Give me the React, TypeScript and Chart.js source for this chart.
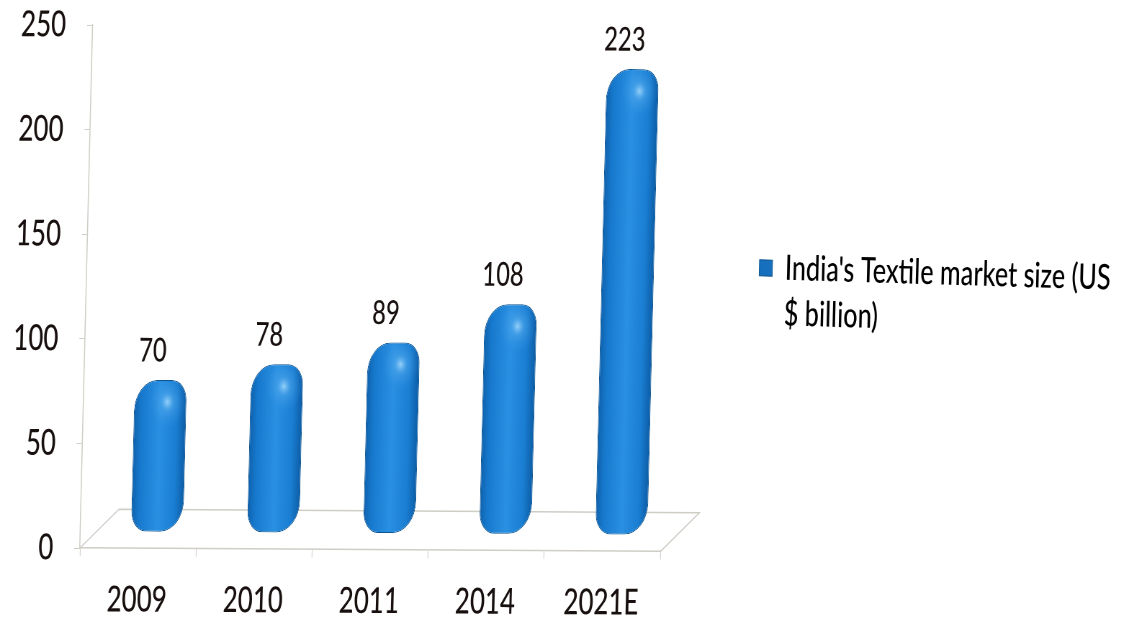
import React, { useEffect, useRef } from "react";
import { Chart, registerables } from "chart.js";

Chart.register(...registerables);

const categories = ["2009", "2010", "2011", "2014", "2021E"];
const marketSize = [70, 78, 89, 108, 223];
const seriesLabel = ["India's Textile market size (US", "$ billion)"];
const yTicks = [0, 50, 100, 150, 200, 250];

const FONT = 'Lato, "Open Sans", sans-serif';
const WEIGHT = 500;
const INK = "#17100f";
const RULE = "#cfcdc6";

// The canvas is laid out wide and squeezed horizontally with CSS, which
// gives the labels their condensed look.
const PAGE_W = 1129;
const PAGE_H = 617;
const SQUEEZE = 0.72;
const CANVAS_W = Math.round(PAGE_W / SQUEEZE);

// The plot is drawn as a tilted 3D box: everything is sheared a little,
// and the columns stand further back on the floor than the front edge.
const PLOT_TOP = 25;
const SHEAR_X = 0.034;
const SHEAR_Y = 0.0044;
const DEPTH_X = 53;
const DEPTH_Y = 39;
const COLUMN_SHIFT = 26;
const LEGEND_W = 651;
const LEGEND_OFFSET_X = 118;
const LEGEND_OFFSET_Y = -17;
const LEGEND_TILT = 0.017;

// Lets the value axes run right up to the top of the plot.
const plotTopPlugin = {
  id: "plotTop",
  afterLayout(chart: any) {
    const area = chart.chartArea;
    area.top = PLOT_TOP;
    area.height = area.bottom - PLOT_TOP;
    [chart.scales.y, chart.scales.columns].forEach((scale: any) => {
      scale.top = PLOT_TOP;
      scale.height = scale.bottom - PLOT_TOP;
      scale.configure();
    });
  },
};

const shearPlugin = {
  id: "shear",
  beforeDraw(chart: any) {
    const { ctx, chartArea } = chart;
    ctx.save();
    ctx.translate(chartArea.left, chartArea.bottom);
    ctx.transform(1, SHEAR_Y, -SHEAR_X, 1, 0, 0);
    ctx.translate(-chartArea.left, -chartArea.bottom);
  },
  afterDraw(chart: any) {
    chart.ctx.restore();
  },
};

const boxPlugin = {
  id: "box",
  beforeDatasetsDraw(chart: any) {
    const { ctx, chartArea } = chart;
    const { left, right, bottom } = chartArea;
    // floor of the box
    ctx.save();
    ctx.strokeStyle = RULE;
    ctx.lineWidth = 1.5;
    ctx.beginPath();
    ctx.moveTo(left, bottom);
    ctx.lineTo(left + DEPTH_X, bottom - DEPTH_Y);
    ctx.lineTo(right + DEPTH_X, bottom - DEPTH_Y);
    ctx.lineTo(right, bottom);
    ctx.stroke();
    ctx.restore();
    // the columns sit behind the front edge
    ctx.save();
    ctx.translate(COLUMN_SHIFT, 0);
  },
  afterDatasetsDraw(chart: any) {
    const { ctx } = chart;
    const bars = chart.getDatasetMeta(0).data;
    bars.forEach((bar: any, i: number) => {
      // specular spot near the top of each column
      const hx = bar.x + 10;
      const hy = bar.y + 22;
      const glow = ctx.createRadialGradient(hx, hy, 0, hx, hy, 26);
      glow.addColorStop(0, "rgba(170,222,255,0.85)");
      glow.addColorStop(0.35, "rgba(90,175,240,0.45)");
      glow.addColorStop(1, "rgba(60,150,230,0)");
      ctx.fillStyle = glow;
      ctx.fillRect(hx - 26, hy - 20, 52, 46);
      // value label above the column
      ctx.fillStyle = INK;
      ctx.font = `${WEIGHT} 33px ${FONT}`;
      ctx.textAlign = "center";
      ctx.textBaseline = "middle";
      ctx.fillText(String(marketSize[i]), bar.x - 12, bar.y - 29);
    });
    ctx.restore();
  },
};

// The legend keeps a fixed slot beside the plot, and its text runs
// downhill more steeply than the plot does.
const legendPlugin = {
  id: "legendSlot",
  afterInit(chart: any) {
    const legend = chart.legend;
    const fit = legend.fit;
    legend.fit = function () {
      fit.call(legend);
      legend.width = LEGEND_W;
    };
    const draw = legend.draw;
    legend.draw = function () {
      const { ctx } = chart;
      ctx.save();
      ctx.translate(LEGEND_OFFSET_X, LEGEND_OFFSET_Y);
      ctx.translate(legend.left, legend.top);
      ctx.transform(1, LEGEND_TILT, 0, 1, 0, 0);
      ctx.translate(-legend.left, -legend.top);
      draw.call(legend);
      ctx.restore();
    };
  },
};

function columnFill(context: any) {
  const chart = context.chart;
  const x = chart.scales.x;
  if (context.dataIndex === undefined || !x) return "#1a7bd0";
  const c = x.getPixelForValue(context.dataIndex);
  const half = 36;
  const g = chart.ctx.createLinearGradient(c - half, 0, c + half, 0);
  g.addColorStop(0, "#0f62ad");
  g.addColorStop(0.14, "#1779cd");
  g.addColorStop(0.5, "#2a90e2");
  g.addColorStop(0.82, "#1a7ed2");
  g.addColorStop(1, "#0d5da6");
  return g;
}

export default function App() {
  const canvasRef = useRef<HTMLCanvasElement | null>(null);

  useEffect(() => {
    document.body.style.margin = "0";
    const chart = new Chart(canvasRef.current as HTMLCanvasElement, {
      type: "bar",
      data: {
        labels: categories,
        datasets: [
          {
            label: seriesLabel.join(" "),
            data: marketSize,
            yAxisID: "columns",
            base: -4,
            backgroundColor: columnFill,
            borderColor: "#0e548f",
            borderWidth: 1,
            borderSkipped: false,
            borderRadius: { topLeft: 32, topRight: 20, bottomLeft: 20, bottomRight: 32 },
            barPercentage: 0.45,
            categoryPercentage: 1,
            clip: false,
          } as any,
        ],
      },
      options: {
        responsive: false,
        animation: false,
        layout: { padding: { top: 0, left: 8, right: 0, bottom: 0 } },
        plugins: {
          title: { display: false },
          tooltip: { enabled: false },
          legend: {
            position: "right",
            labels: {
              color: INK,
              font: { family: FONT, size: 35, weight: WEIGHT, lineHeight: 1.3 },
              boxWidth: 18,
              boxHeight: 16,
              padding: 10,
              generateLabels: () => [
                {
                  text: seriesLabel as any,
                  fillStyle: "#1670bd",
                  strokeStyle: "#0e548f",
                  lineWidth: 1,
                  datasetIndex: 0,
                },
              ],
            },
          },
        },
        scales: {
          x: {
            afterFit: (axis: any) => {
              axis.height = 69;
            },
            grid: { display: true, drawOnChartArea: false, drawTicks: true, tickLength: 8, color: RULE, offset: true },
            border: { display: true, color: RULE, width: 1.5 },
            ticks: { color: INK, font: { family: FONT, size: 36, weight: WEIGHT }, padding: 22, maxRotation: 0 },
          },
          y: {
            min: 0,
            max: 250,
            afterBuildTicks: (axis: any) => {
              axis.ticks = yTicks.map((value) => ({ value }));
            },
            afterFit: (axis: any) => {
              axis.width = 103;
            },
            grid: { display: true, drawOnChartArea: false, drawTicks: true, tickLength: 8, color: RULE },
            border: { display: true, color: RULE, width: 1.5 },
            ticks: { color: INK, font: { family: FONT, size: 36, weight: WEIGHT }, padding: 29 },
          },
          columns: {
            display: false,
            min: -12.2,
            max: 242.9,
          },
        },
      },
      plugins: [plotTopPlugin, shearPlugin, boxPlugin, legendPlugin],
    } as any);
    return () => chart.destroy();
  }, []);

  return (
    <canvas
      ref={canvasRef}
      width={CANVAS_W}
      height={PAGE_H}
      style={{ display: "block", width: PAGE_W, height: PAGE_H }}
    />
  );
}
